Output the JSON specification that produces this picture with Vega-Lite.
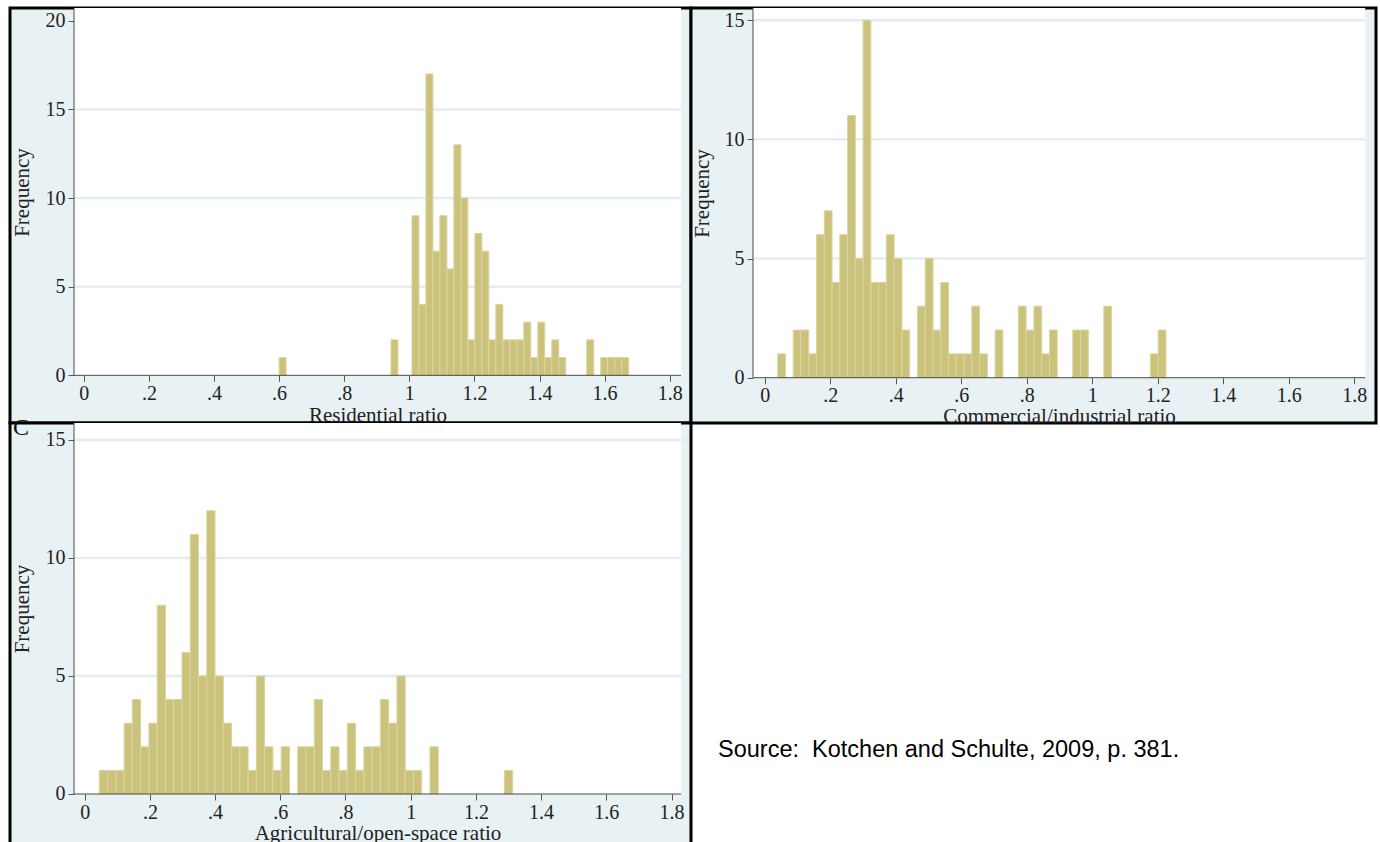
{
  "$schema": "https://vega.github.io/schema/vega-lite/v6.json",
  "padding": {"left": 8, "top": 6, "right": 0, "bottom": 0},
  "background": "white",
  "columns": 2,
  "bounds": "flush",
  "align": "none",
  "spacing": 0,
  "config": {
    "concat": {"spacing": 0},
    "view": {"fill": "#e8f1f3", "stroke": "black", "strokeWidth": 3},
    "axis": {"labelFont": "Liberation Serif", "titleFont": "Liberation Serif", "labelFontSize": 20, "titleFontSize": 21, "titleFontWeight": "normal", "labelColor": "#222", "titleColor": "#222", "tickColor": "#555", "tickSize": 6, "domain": false, "grid": false, "labelFlush": false, "labelOverlap": false, "labelBound": false, "zindex": 1}
  },
  "datasets": {
    "A": [
      {"x0": 0.6000, "x1": 0.6215, "n": 1},
      {"x0": 0.9437, "x1": 0.9652, "n": 2},
      {"x0": 1.0081, "x1": 1.0296, "n": 9},
      {"x0": 1.0296, "x1": 1.0511, "n": 4},
      {"x0": 1.0511, "x1": 1.0726, "n": 17},
      {"x0": 1.0726, "x1": 1.0940, "n": 7},
      {"x0": 1.0940, "x1": 1.1155, "n": 9},
      {"x0": 1.1155, "x1": 1.1370, "n": 6},
      {"x0": 1.1370, "x1": 1.1585, "n": 13},
      {"x0": 1.1585, "x1": 1.1800, "n": 10},
      {"x0": 1.1800, "x1": 1.2014, "n": 2},
      {"x0": 1.2014, "x1": 1.2229, "n": 8},
      {"x0": 1.2229, "x1": 1.2444, "n": 7},
      {"x0": 1.2444, "x1": 1.2659, "n": 2},
      {"x0": 1.2659, "x1": 1.2874, "n": 4},
      {"x0": 1.2874, "x1": 1.3088, "n": 2},
      {"x0": 1.3088, "x1": 1.3303, "n": 2},
      {"x0": 1.3303, "x1": 1.3518, "n": 2},
      {"x0": 1.3518, "x1": 1.3733, "n": 3},
      {"x0": 1.3733, "x1": 1.3948, "n": 1},
      {"x0": 1.3948, "x1": 1.4162, "n": 3},
      {"x0": 1.4162, "x1": 1.4377, "n": 1},
      {"x0": 1.4377, "x1": 1.4592, "n": 2},
      {"x0": 1.4592, "x1": 1.4807, "n": 1},
      {"x0": 1.5451, "x1": 1.5666, "n": 2},
      {"x0": 1.5881, "x1": 1.6096, "n": 1},
      {"x0": 1.6096, "x1": 1.6310, "n": 1},
      {"x0": 1.6310, "x1": 1.6525, "n": 1},
      {"x0": 1.6525, "x1": 1.6740, "n": 1}
    ],
    "B": [
      {"x0": 0.0397, "x1": 0.0634, "n": 1},
      {"x0": 0.0871, "x1": 0.1108, "n": 2},
      {"x0": 0.1108, "x1": 0.1345, "n": 2},
      {"x0": 0.1345, "x1": 0.1583, "n": 1},
      {"x0": 0.1583, "x1": 0.1820, "n": 6},
      {"x0": 0.1820, "x1": 0.2057, "n": 7},
      {"x0": 0.2057, "x1": 0.2294, "n": 4},
      {"x0": 0.2294, "x1": 0.2531, "n": 6},
      {"x0": 0.2531, "x1": 0.2768, "n": 11},
      {"x0": 0.2768, "x1": 0.3005, "n": 5},
      {"x0": 0.3005, "x1": 0.3242, "n": 15},
      {"x0": 0.3242, "x1": 0.3479, "n": 4},
      {"x0": 0.3479, "x1": 0.3716, "n": 4},
      {"x0": 0.3716, "x1": 0.3954, "n": 6},
      {"x0": 0.3954, "x1": 0.4191, "n": 5},
      {"x0": 0.4191, "x1": 0.4428, "n": 2},
      {"x0": 0.4665, "x1": 0.4902, "n": 3},
      {"x0": 0.4902, "x1": 0.5139, "n": 5},
      {"x0": 0.5139, "x1": 0.5376, "n": 2},
      {"x0": 0.5376, "x1": 0.5613, "n": 4},
      {"x0": 0.5613, "x1": 0.5850, "n": 1},
      {"x0": 0.5850, "x1": 0.6087, "n": 1},
      {"x0": 0.6087, "x1": 0.6325, "n": 1},
      {"x0": 0.6325, "x1": 0.6562, "n": 3},
      {"x0": 0.6562, "x1": 0.6799, "n": 1},
      {"x0": 0.7036, "x1": 0.7273, "n": 2},
      {"x0": 0.7747, "x1": 0.7984, "n": 3},
      {"x0": 0.7984, "x1": 0.8221, "n": 2},
      {"x0": 0.8221, "x1": 0.8458, "n": 3},
      {"x0": 0.8458, "x1": 0.8696, "n": 1},
      {"x0": 0.8696, "x1": 0.8933, "n": 2},
      {"x0": 0.9407, "x1": 0.9644, "n": 2},
      {"x0": 0.9644, "x1": 0.9881, "n": 2},
      {"x0": 1.0355, "x1": 1.0592, "n": 3},
      {"x0": 1.1778, "x1": 1.2015, "n": 1},
      {"x0": 1.2015, "x1": 1.2252, "n": 2}
    ],
    "C": [
      {"x0": 0.0448, "x1": 0.0702, "n": 1},
      {"x0": 0.0702, "x1": 0.0955, "n": 1},
      {"x0": 0.0955, "x1": 0.1209, "n": 1},
      {"x0": 0.1209, "x1": 0.1462, "n": 3},
      {"x0": 0.1462, "x1": 0.1716, "n": 4},
      {"x0": 0.1716, "x1": 0.1970, "n": 2},
      {"x0": 0.1970, "x1": 0.2223, "n": 3},
      {"x0": 0.2223, "x1": 0.2477, "n": 8},
      {"x0": 0.2477, "x1": 0.2730, "n": 4},
      {"x0": 0.2730, "x1": 0.2984, "n": 4},
      {"x0": 0.2984, "x1": 0.3238, "n": 6},
      {"x0": 0.3238, "x1": 0.3491, "n": 11},
      {"x0": 0.3491, "x1": 0.3745, "n": 5},
      {"x0": 0.3745, "x1": 0.3998, "n": 12},
      {"x0": 0.3998, "x1": 0.4252, "n": 5},
      {"x0": 0.4252, "x1": 0.4506, "n": 3},
      {"x0": 0.4506, "x1": 0.4759, "n": 2},
      {"x0": 0.4759, "x1": 0.5013, "n": 2},
      {"x0": 0.5013, "x1": 0.5266, "n": 1},
      {"x0": 0.5266, "x1": 0.5520, "n": 5},
      {"x0": 0.5520, "x1": 0.5774, "n": 2},
      {"x0": 0.5774, "x1": 0.6027, "n": 1},
      {"x0": 0.6027, "x1": 0.6281, "n": 2},
      {"x0": 0.6534, "x1": 0.6788, "n": 2},
      {"x0": 0.6788, "x1": 0.7042, "n": 2},
      {"x0": 0.7042, "x1": 0.7295, "n": 4},
      {"x0": 0.7295, "x1": 0.7549, "n": 1},
      {"x0": 0.7549, "x1": 0.7802, "n": 2},
      {"x0": 0.7802, "x1": 0.8056, "n": 1},
      {"x0": 0.8056, "x1": 0.8310, "n": 3},
      {"x0": 0.8310, "x1": 0.8563, "n": 1},
      {"x0": 0.8563, "x1": 0.8817, "n": 2},
      {"x0": 0.8817, "x1": 0.9070, "n": 2},
      {"x0": 0.9070, "x1": 0.9324, "n": 4},
      {"x0": 0.9324, "x1": 0.9578, "n": 3},
      {"x0": 0.9578, "x1": 0.9831, "n": 5},
      {"x0": 0.9831, "x1": 1.0085, "n": 1},
      {"x0": 1.0085, "x1": 1.0338, "n": 1},
      {"x0": 1.0592, "x1": 1.0846, "n": 2},
      {"x0": 1.2874, "x1": 1.3128, "n": 1}
    ]
  },
  "concat": [
    {
      "width": 681, "height": 415,
      "layer": [
        {"data": {"values": [{}]}, "mark": {"type": "rect", "fill": "white"},
         "encoding": {"x": {"datum": -0.0301, "type": "quantitative"}, "x2": {"datum": 1.8347}, "y": {"datum": 0, "type": "quantitative"}, "y2": {"datum": 20.72}}},
        {"data": {"values": [{"g": 5}, {"g": 10}, {"g": 15}]}, "mark": {"type": "rule", "color": "#e2edf1", "strokeWidth": 2.5},
         "encoding": {"y": {"field": "g", "type": "quantitative"}, "x": {"datum": -0.0301, "type": "quantitative"}, "x2": {"datum": 1.8347}}},
        {"data": {"name": "A"}, "mark": {"type": "rect", "fill": "#cbc27b", "stroke": "#dbd59f", "strokeWidth": 1},
         "encoding": {
           "x": {"field": "x0", "type": "quantitative", "scale": {"domain": [-0.2267, 1.8654], "nice": false, "zero": false},
                 "axis": {"values": [0, 0.2, 0.4, 0.6, 0.8, 1, 1.2, 1.4, 1.6, 1.8], "offset": -47.7, "labelPadding": 2, "labelExpr": "datum.value == 0 ? '0' : datum.value == 1 ? '1' : datum.value < 1 ? replace(format(datum.value, '.1f'), '0.', '.') : format(datum.value, '.1f')", "title": "Residential ratio", "titleX": 367.5, "titleY": 40, "titleBaseline": "middle"}},
           "x2": {"field": "x1"},
           "y": {"field": "n", "type": "quantitative", "scale": {"domain": [-2.69, 20.72], "nice": false, "zero": false},
                 "axis": {"values": [0, 5, 10, 15, 20], "offset": -64, "labelPadding": 3, "title": "Frequency", "titleX": -52, "titleY": 184, "titleBaseline": "middle", "titleAngle": -90}},
           "y2": {"datum": 0}
         }},
        {"data": {"values": [{}]}, "mark": {"type": "rule", "color": "#4a4a4a", "strokeWidth": 1},
         "encoding": {"y": {"datum": 0, "type": "quantitative"}, "x": {"datum": -0.0301, "type": "quantitative"}, "x2": {"datum": 1.8347}}},
        {"data": {"values": [{}]}, "mark": {"type": "rule", "color": "#4a4a4a", "strokeWidth": 1},
         "encoding": {"x": {"datum": -0.0301, "type": "quantitative"}, "y": {"datum": 0, "type": "quantitative"}, "y2": {"datum": 20.72}}}
      ]
    },
    {
      "width": 685, "height": 415,
      "layer": [
        {"data": {"values": [{}]}, "mark": {"type": "rect", "fill": "white"},
         "encoding": {"x": {"datum": -0.0357, "type": "quantitative"}, "x2": {"datum": 1.8336}, "y": {"datum": 0, "type": "quantitative"}, "y2": {"datum": 15.51}}},
        {"data": {"values": [{"g": 5}, {"g": 10}, {"g": 15}]}, "mark": {"type": "rule", "color": "#e2edf1", "strokeWidth": 2.5},
         "encoding": {"y": {"field": "g", "type": "quantitative"}, "x": {"datum": -0.0357, "type": "quantitative"}, "x2": {"datum": 1.8336}}},
        {"data": {"name": "B"}, "mark": {"type": "rect", "fill": "#cbc27b", "stroke": "#dbd59f", "strokeWidth": 1},
         "encoding": {
           "x": {"field": "x0", "type": "quantitative", "scale": {"domain": [-0.2250, 1.8666], "nice": false, "zero": false},
                 "axis": {"values": [0, 0.2, 0.4, 0.6, 0.8, 1, 1.2, 1.4, 1.6, 1.8], "offset": -45.3, "labelPadding": 2, "labelExpr": "datum.value == 0 ? '0' : datum.value == 1 ? '1' : datum.value < 1 ? replace(format(datum.value, '.1f'), '0.', '.') : format(datum.value, '.1f')", "title": "Commercial/industrial ratio", "titleX": 368, "titleY": 38.5, "titleBaseline": "middle"}},
           "x2": {"field": "x1"},
           "y": {"field": "n", "type": "quantitative", "scale": {"domain": [-1.90, 15.51], "nice": false, "zero": false},
                 "axis": {"values": [0, 5, 10, 15], "offset": -62, "labelPadding": 3, "title": "Frequency", "titleX": -51, "titleY": 185, "titleBaseline": "middle", "titleAngle": -90}},
           "y2": {"datum": 0}
         }},
        {"data": {"values": [{}]}, "mark": {"type": "rule", "color": "#4a4a4a", "strokeWidth": 1},
         "encoding": {"y": {"datum": 0, "type": "quantitative"}, "x": {"datum": -0.0357, "type": "quantitative"}, "x2": {"datum": 1.8336}}},
        {"data": {"values": [{}]}, "mark": {"type": "rule", "color": "#4a4a4a", "strokeWidth": 1},
         "encoding": {"x": {"datum": -0.0357, "type": "quantitative"}, "y": {"datum": 0, "type": "quantitative"}, "y2": {"datum": 15.51}}}
      ]
    },
    {
      "width": 681, "height": 430,
      "layer": [
        {"data": {"values": [{}]}, "mark": {"type": "rect", "fill": "white"},
         "encoding": {"x": {"datum": -0.0328, "type": "quantitative"}, "x2": {"datum": 1.8294}, "y": {"datum": 0, "type": "quantitative"}, "y2": {"datum": 15.72}}},
        {"data": {"values": [{"g": 5}, {"g": 10}, {"g": 15}]}, "mark": {"type": "rule", "color": "#e2edf1", "strokeWidth": 2.5},
         "encoding": {"y": {"field": "g", "type": "quantitative"}, "x": {"datum": -0.0328, "type": "quantitative"}, "x2": {"datum": 1.8294}}},
        {"data": {"name": "C"}, "mark": {"type": "rect", "fill": "#cbc27b", "stroke": "#dbd59f", "strokeWidth": 1},
         "encoding": {
           "x": {"field": "x0", "type": "quantitative", "scale": {"domain": [-0.2291, 1.8598], "nice": false, "zero": false},
                 "axis": {"values": [0, 0.2, 0.4, 0.6, 0.8, 1, 1.2, 1.4, 1.6, 1.8], "offset": -59, "labelPadding": 2, "labelExpr": "datum.value == 0 ? '0' : datum.value == 1 ? '1' : datum.value < 1 ? replace(format(datum.value, '.1f'), '0.', '.') : format(datum.value, '.1f')", "title": "Agricultural/open-space ratio", "titleX": 367.5, "titleY": 39, "titleBaseline": "middle"}},
           "x2": {"field": "x1"},
           "y": {"field": "n", "type": "quantitative", "scale": {"domain": [-2.5, 15.72], "nice": false, "zero": false},
                 "axis": {"values": [0, 5, 10, 15], "offset": -64, "labelPadding": 3, "title": "Frequency", "titleX": -52, "titleY": 185.5, "titleBaseline": "middle", "titleAngle": -90}},
           "y2": {"datum": 0}
         }},
        {"data": {"values": [{}]}, "mark": {"type": "rule", "color": "#4a4a4a", "strokeWidth": 1},
         "encoding": {"y": {"datum": 0, "type": "quantitative"}, "x": {"datum": -0.0328, "type": "quantitative"}, "x2": {"datum": 1.8294}}},
        {"data": {"values": [{}]}, "mark": {"type": "rule", "color": "#4a4a4a", "strokeWidth": 1},
         "encoding": {"x": {"datum": -0.0328, "type": "quantitative"}, "y": {"datum": 0, "type": "quantitative"}, "y2": {"datum": 15.72}}},
        {"data": {"values": [{"lab": "C"}]}, "mark": {"type": "text", "align": "left", "baseline": "alphabetic", "font": "Liberation Serif", "fontSize": 24, "color": "#111"},
         "encoding": {"text": {"field": "lab"}, "x": {"datum": -0.22, "type": "quantitative"}, "y": {"datum": 15.2, "type": "quantitative"}}}
      ]
    },
    {
      "width": 685, "height": 421,
      "view": {"fill": null, "stroke": null},
      "data": {"values": [{"t": "Source:\u00a0 Kotchen and Schulte, 2009, p. 381."}]},
      "mark": {"type": "text", "align": "left", "baseline": "middle", "font": "Liberation Sans", "fontSize": 23.5, "color": "black"},
      "encoding": {
        "text": {"field": "t"},
        "x": {"datum": 0.0394, "type": "quantitative", "scale": {"domain": [0, 1]}, "axis": null},
        "y": {"datum": 0.2233, "type": "quantitative", "scale": {"domain": [0, 1]}, "axis": null}
      }
    }
  ]
}
